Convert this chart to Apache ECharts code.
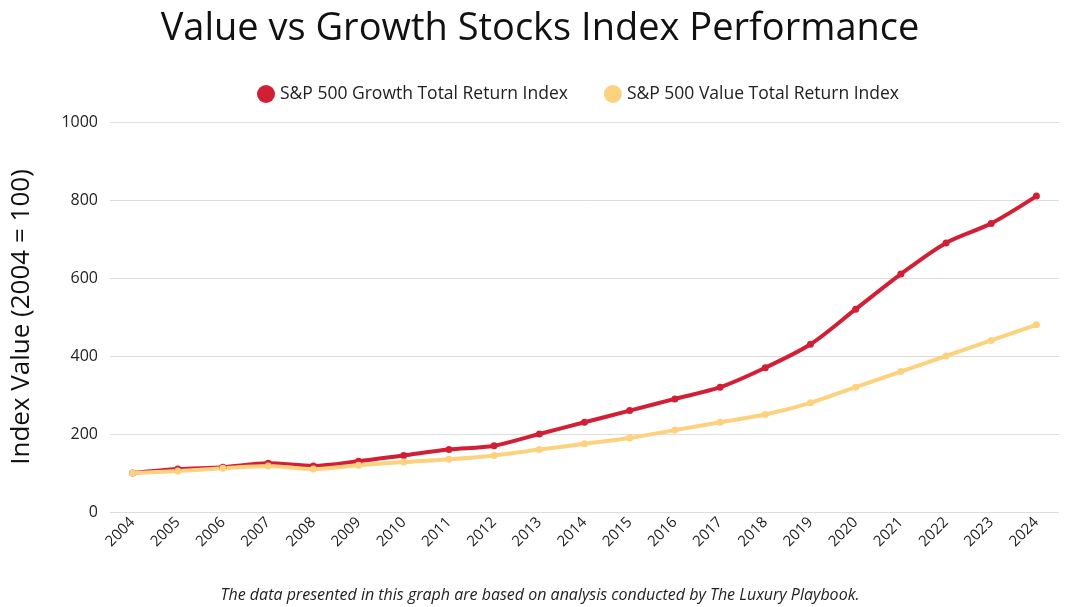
<!DOCTYPE html>
<html><head><meta charset="utf-8">
<script src="https://cdn.jsdelivr.net/npm/echarts@6/dist/echarts.min.js"></script>
<style>html,body{margin:0;padding:0;background:#fff}#c{width:1080px;height:607px}</style>
</head><body><div id="c"></div>
<script>
const years = ['2004','2005','2006','2007','2008','2009','2010','2011','2012','2013','2014','2015','2016','2017','2018','2019','2020','2021','2022','2023','2024'];
const growth = [100,110,115,125,118,130,145,160,170,200,230,260,290,320,370,430,520,610,690,740,810];
const value = [100,105,112,118,110,120,128,135,145,160,175,190,210,230,250,280,320,360,400,440,480];
const chart = echarts.init(document.getElementById('c'));
const F = 'Open Sans';
chart.setOption({
  animation:false,
  title:{text:'Value vs Growth Stocks Index Performance',left:'center',top:5,textStyle:{fontFamily:F,fontSize:38,fontWeight:'normal',color:'#111'}},
  legend:{top:80,left:252,itemGap:36,icon:'circle',itemWidth:18,itemHeight:18,textStyle:{fontFamily:F,fontSize:17.5,color:'#222'}},
  grid:{left:110,right:21,top:122,bottom:95},
  xAxis:{type:'category',data:years,boundaryGap:['1%','1%'],axisTick:{show:false},axisLine:{show:false},
    axisLabel:{rotate:45,fontFamily:F,fontSize:15,color:'#222',margin:8}},
  yAxis:{type:'value',min:0,max:1000,interval:200,name:'Index Value (2004 = 100)',nameLocation:'middle',nameGap:75,
    nameTextStyle:{fontFamily:F,fontSize:26,color:'#111'},
    axisLabel:{fontFamily:F,fontSize:16,color:'#222',margin:12,formatter:v=>String(v)},splitLine:{lineStyle:{color:'#ddd'}}},
  series:[
    {name:'S&P 500 Growth Total Return Index',type:'line',data:growth,smooth:0.3,symbol:'circle',symbolSize:7,
      lineStyle:{width:4,color:'#d21f35'},itemStyle:{color:'#d21f35'}},
    {name:'S&P 500 Value Total Return Index',type:'line',data:value,smooth:0.3,symbol:'circle',symbolSize:7,
      lineStyle:{width:4,color:'#fdd27f'},itemStyle:{color:'#fdd27f'}}
  ],
  graphic:[{type:'text',left:'center',top:587,style:{text:'The data presented in this graph are based on analysis conducted by The Luxury Playbook.',
    font:'italic 16px "Open Sans"',fill:'#222'}}]
});
</script></body></html>
